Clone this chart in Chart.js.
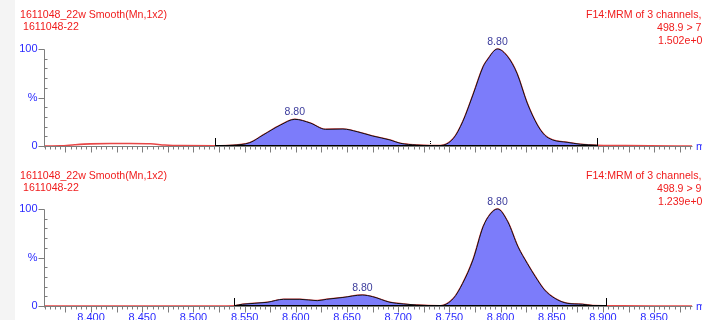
<!DOCTYPE html>
<html><head><meta charset="utf-8">
<script src="https://cdn.jsdelivr.net/npm/chart.js@4.4.0/dist/chart.umd.min.js"></script>
<style>
html,body{margin:0;padding:0;background:#fff;}
body{width:702px;height:320px;overflow:hidden;position:relative;font-family:"Liberation Sans",Arial,sans-serif;}
#strip{position:absolute;left:0;top:0;width:15px;height:320px;background:#f4f4f4;}
.t{position:absolute;font-size:10.6px;color:#f01c1c;white-space:nowrap;line-height:12px;}
.wrap{position:absolute;left:0;width:702px;height:160px;}
</style></head><body>
<div id="strip"></div>
<div class="wrap" style="top:0"><canvas id="c1"></canvas></div>
<div class="wrap" style="top:160px"><canvas id="c2"></canvas></div>
<div class="t" style="left:20px;top:8px">1611048_22w Smooth(Mn,1x2)</div>
<div class="t" style="left:23px;top:20px">1611048-22</div>
<div class="t" style="left:586px;top:8px">F14:MRM of 3 channels,ES-</div>
<div class="t" style="left:657px;top:21px">498.9 &gt; 79.0</div>
<div class="t" style="left:658px;top:34px">1.502e+006</div>
<div class="t" style="left:20px;top:169px">1611048_22w Smooth(Mn,1x2)</div>
<div class="t" style="left:23px;top:181px">1611048-22</div>
<div class="t" style="left:586px;top:169px">F14:MRM of 3 channels,ES-</div>
<div class="t" style="left:657px;top:182px">498.9 &gt; 98.9</div>
<div class="t" style="left:658px;top:195px">1.239e+006</div>
<script>
// ---- data (retention time in min, intensity in %) ----
const timesTop = [8.354,8.370,8.384,8.399,8.419,8.438,8.458,8.472,8.487,8.521,8.538,8.555,8.568,8.585,8.599,8.614,8.629,8.646,8.660,8.675,8.692,8.702,8.718,8.731,8.741,8.754,8.763,8.773,8.783,8.787,8.797,8.807,8.816,8.826,8.836,8.843,8.851,8.865,8.878,8.894,8.917,8.946,8.987];
const valuesTop = [0,0.2,1.3,2.2,2.6,2.6,2.3,1.0,0.4,0.3,0.8,3.4,11.3,21.6,27.5,23.7,17.2,17.5,14.7,10.3,6.2,2.8,1.0,0.5,0.5,7.9,25,52.6,81.8,88.7,100,92,75,44.3,21.6,11.3,6.2,3.8,1.8,0.8,0.5,0.2,0];
const timesBottom = [8.354,8.400,8.450,8.500,8.540,8.548,8.572,8.588,8.604,8.621,8.630,8.646,8.665,8.675,8.692,8.705,8.718,8.741,8.754,8.763,8.773,8.783,8.790,8.797,8.807,8.817,8.826,8.834,8.843,8.853,8.865,8.880,8.890,8.903,8.950,8.987];
const valuesBottom = [0,0,0,0,0.3,1.8,3.8,6.9,6.9,5.5,6.9,8.8,11.3,9.6,3.8,2.1,1.0,0.3,7.9,23.4,47.4,81.8,94.8,100,86.9,61.1,44,30.2,16.5,7.9,2.8,1.8,0.5,0.3,0,0];
const integTop = [8.521, 8.894];
const integBottom = [8.540, 8.903];
const peakLabelTimesTop = [8.599, 8.797];
const peakLabelValuesTop = [27.5, 100];
const peakLabelTimesBottom = [8.665, 8.797];
const peakLabelValuesBottom = [11.3, 100];
const peakLabelText = '8.80';
const xTickLabels = ['8.400','8.450','8.500','8.550','8.600','8.650','8.700','8.750','8.800','8.850','8.900','8.950'];
const yTickLabels = ['0','%','100'];
const xMin = 8.354, xMax = 8.987;

function makePanel(id, times, values, integ, pkT, pkV, markers, showXLabels){
  const pts = times.map((t,i)=>({x:t,y:values[i]}));
  const peakPts = pts.filter(p=>p.x>=integ[0]-1e-9 && p.x<=integ[1]+1e-9);
  const axes = {
    id:'axes'+id,
    afterDatasetsDraw(chart){
      const {ctx} = chart; const x=chart.scales.x, y=chart.scales.y;
      ctx.save();
      ctx.strokeStyle='#000'; ctx.lineWidth=1;
      integ.forEach(v=>{const px=Math.round(x.getPixelForValue(v))+0.5; ctx.beginPath(); ctx.moveTo(px,y.getPixelForValue(0)); ctx.lineTo(px,y.getPixelForValue(0)-8); ctx.stroke();});
      markers.forEach(v=>{const px=Math.round(x.getPixelForValue(v))+0.5; ctx.setLineDash([1,1]); ctx.beginPath(); ctx.moveTo(px,y.getPixelForValue(0)); ctx.lineTo(px,y.getPixelForValue(0)-5); ctx.stroke(); ctx.setLineDash([]);});
      ctx.strokeStyle='#7d7d7d'; ctx.lineWidth=1;
      const ax=Math.round(x.getPixelForValue(xMin))+0.5;
      const y0=Math.round(y.getPixelForValue(0))+0.5, y100=Math.round(y.getPixelForValue(100))+0.5;
      ctx.beginPath(); ctx.moveTo(ax,y100); ctx.lineTo(ax,y0+1); ctx.stroke();
      ctx.beginPath(); ctx.moveTo(ax,y0); ctx.lineTo(Math.round(x.getPixelForValue(xMax))+0.5,y0); ctx.stroke();
      for(let v=0; v<=100; v+=10){
        const py=Math.round(y.getPixelForValue(v))+0.5;
        ctx.beginPath();
        if(v%50===0){ctx.moveTo(ax-6,py); ctx.lineTo(ax,py);} else {ctx.moveTo(ax,py); ctx.lineTo(ax+3,py);}
        ctx.stroke();
      }
      for(let k=Math.ceil(xMin/0.005); k*0.005<=xMax+1e-9; k++){
        const px=Math.round(x.getPixelForValue(k*0.005))+0.5;
        const len = (k%5===0)?6:3;
        ctx.beginPath(); ctx.moveTo(px,y0); ctx.lineTo(px,y0+len); ctx.stroke();
      }
      ctx.fillStyle='#2a2aff'; ctx.font='11px "Liberation Sans", Arial, sans-serif';
      ctx.textAlign='right'; ctx.textBaseline='middle';
      [0,50,100].forEach((v,i)=>ctx.fillText(yTickLabels[i], ax-7, y.getPixelForValue(v)));
      ctx.textAlign='left';
      ctx.fillText('min', Math.round(x.getPixelForValue(xMax))+4, y0);
      if(showXLabels){
        ctx.textAlign='center'; ctx.textBaseline='top';
        xTickLabels.forEach(s=>ctx.fillText(s, x.getPixelForValue(parseFloat(s)), y0+6));
      }
      ctx.fillStyle='#3c3c9c'; ctx.font='10.5px "Liberation Sans", Arial, sans-serif';
      ctx.textAlign='center'; ctx.textBaseline='bottom';
      pkT.forEach((t,i)=>ctx.fillText(peakLabelText, x.getPixelForValue(t), y.getPixelForValue(pkV[i])-2));
      ctx.restore();
    }
  };
  return new Chart(document.getElementById(id), {
    type:'line',
    data:{datasets:[
      {data:[{x:integ[0],y:0},{x:integ[1],y:0}], borderColor:'#000', borderWidth:2, pointRadius:0, fill:false, clip:false},
      {data:peakPts, borderColor:'#111', borderWidth:1, backgroundColor:'rgb(124,124,250)', fill:'origin', pointRadius:0, cubicInterpolationMode:'monotone', clip:false},
      {data:pts, borderColor:'rgb(232,70,70)', borderWidth:1.6, pointRadius:0, fill:false, cubicInterpolationMode:'monotone', clip:false}
    ]},
    options:{
      responsive:true, maintainAspectRatio:false, animation:false, devicePixelRatio:1,
      layout:{padding:{left:44,right:10,top:49,bottom:14}},
      plugins:{legend:{display:false}, tooltip:{enabled:false}},
      scales:{
        x:{type:'linear', min:xMin, max:xMax, display:false},
        y:{type:'linear', min:0, max:100, display:false}
      }
    },
    plugins:[axes]
  });
}
makePanel('c1', timesTop, valuesTop, integTop, peakLabelTimesTop, peakLabelValuesTop, [8.731], false);
makePanel('c2', timesBottom, valuesBottom, integBottom, peakLabelTimesBottom, peakLabelValuesBottom, [], true);
</script>
</body></html>
